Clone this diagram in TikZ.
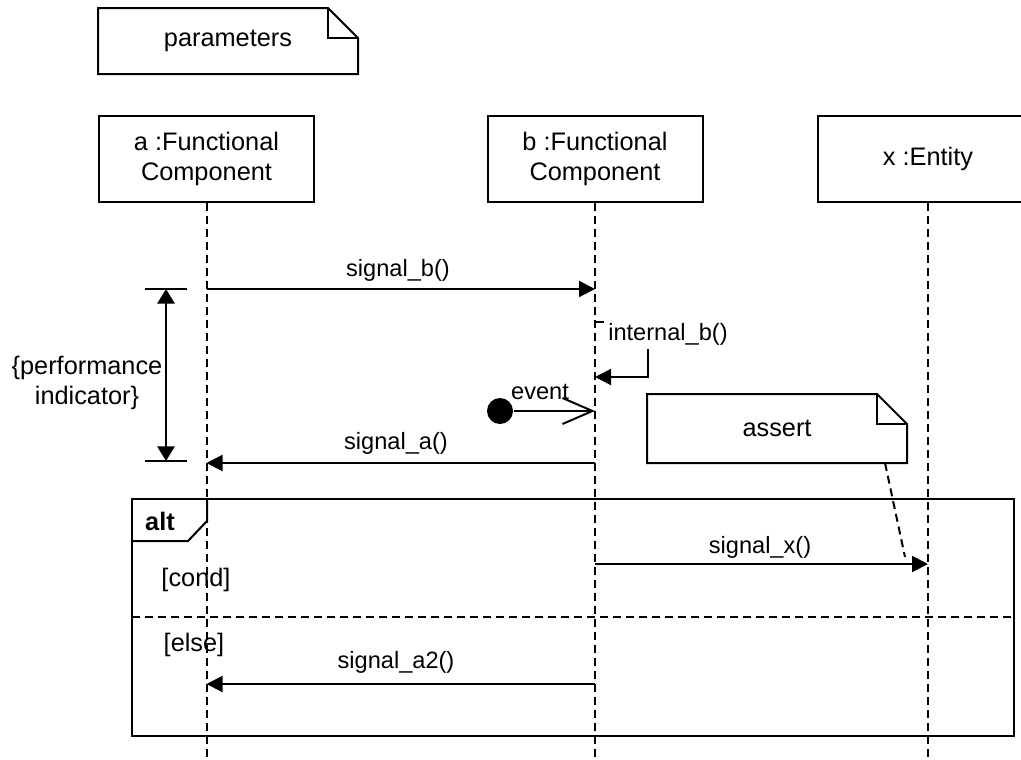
\documentclass[tikz,border=0pt]{standalone}
\usepackage{fontspec}
\setmainfont{Liberation Sans}
\usetikzlibrary{arrows.meta,positioning,calc}

% note with a folded corner, drawn round a node
\newcommand{\dognote}[1]{%
    \draw (#1.south west) -- (#1.north west) -- ([xshift=-22.5pt]#1.north east)
        -- ([yshift=-22.5pt]#1.north east) -- (#1.south east) -- cycle;
    \draw ([xshift=-22.5pt]#1.north east) |- ([yshift=-22.5pt]#1.north east);
}

\begin{document}
\begin{tikzpicture}[x=0.75pt,y=-0.75pt,line width=1.5pt,
    font=\fontsize{19}{22.5}\selectfont,
    lifebox/.style={draw,fill=white,minimum height=64.5pt,align=center,inner sep=0pt},
    lifeline/.style={dash pattern=on 6pt off 3.75pt},
    notebox/.style={minimum width=193.5pt,inner sep=0pt},
    msg/.style={-{Triangle[length=12pt,width=12pt]}},
    msglabel/.style={font=\fontsize{17.7}{21}\selectfont,inner sep=1pt}]
    \useasboundingbox (0,0) rectangle (1021,760);

    \node[notebox,minimum height=48pt] (params) at (228,41) {parameters};
    \dognote{params}

    % lifelines
    \node[lifebox,minimum width=161.25pt] (a) at (206.5,159) {a :Functional\\Component};
    \node[lifebox,minimum width=161.25pt] (b) at (595,159) {b :Functional\\Component};
    \node[lifebox,minimum width=165pt] (x) at (928,159) {x :Entity};
    \foreach \n in {a,b,x}
    {
        \draw[lifeline] (\n.south) -- (\n.south |- 0,760);
    }

    \draw[msg] (a |- 0,289) -- (b |- 0,289);
    \node[msglabel] (lb) at (398,270) {signal\_b()};

    % performance indicator
    \draw (145,289) -- (187,289);
    \draw (145,461) -- (187,461);
    \draw[{Triangle[length=11pt,width=13pt]}-{Triangle[length=11pt,width=13pt]}] (166,289) -- (166,461);
    \node[align=center] (perf) at (87,383) {\{performance\\indicator\}};

    \draw[msg] (b |- 0,322) -- (648,322) -- (648,377) -- (b |- 0,377);
    \node[msglabel,fill=white,inner sep=3pt] (li) at (668,334) {internal\_b()};

    \node[circle,fill,minimum size=19.5pt,inner sep=0pt] (ev) at (500,411) {};
    \draw[-{Straight Barb[length=22.5pt,width=19.5pt]}] (ev) -- (b |- 0,411);
    \node[msglabel] (le) at (540,392) {event};

    \node[notebox,minimum height=50.25pt] (assert) at (777,428.5) {assert};
    \dognote{assert}

    \draw[msg] (b |- 0,463) -- (a |- 0,463);
    \node[msglabel] (la) at (396,443) {signal\_a()};

    % alt fragment
    \draw (132,499) rectangle (1014,736);
    \draw (132,541) -- (188,541) -- (207,521) -- (207,499);
    \node[font=\fontsize{19}{22.5}\bfseries] (alt) at (160,521) {alt};
    \draw[lifeline] (132,617) -- (1014,617);
    \node (cond) at (196,580) {[cond]};
    \node (else) at (194,645) {[else]};

    \draw[msg] (b |- 0,564) -- (x |- 0,564);
    \node[msglabel] (lx) at (760,547) {signal\_x()};
    \coordinate (sxend) at (905,557);
    \draw[lifeline] ([xshift=-16.5pt]assert.south east) -- (sxend);

    \draw[msg] (b |- 0,684) -- (a |- 0,684);
    \node[msglabel] (la2) at (396,662) {signal\_a2()};
\end{tikzpicture}
\end{document}
